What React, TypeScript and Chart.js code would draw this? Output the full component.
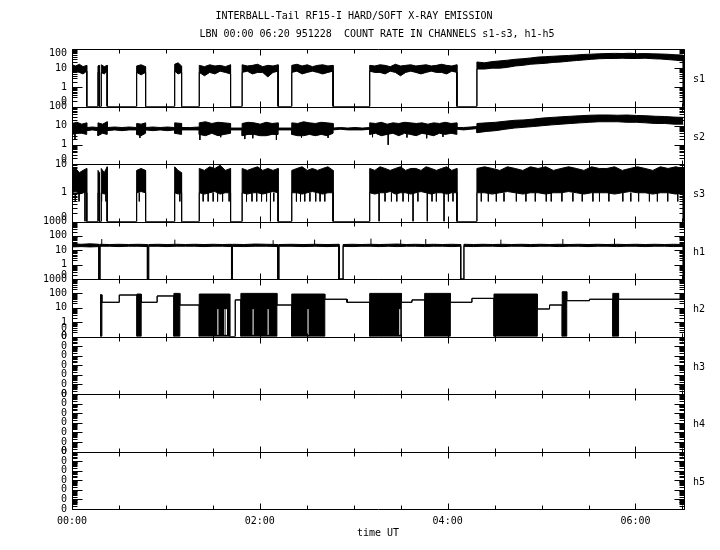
import React, { useEffect, useRef } from 'react';
import { Chart, registerables } from 'chart.js';

Chart.register(...registerables);

const FONT = '"DejaVu Sans Mono", "Liberation Mono", monospace';

// ---------------- text ----------------
const titleText = 'INTERBALL-Tail RF15-I HARD/SOFT X-RAY EMISSION';
const subtitleText = 'LBN 00:00 06:20 951228  COUNT RATE IN CHANNELS s1-s3, h1-h5';
const xAxisTitle = 'time UT';

// ---------------- time axis (minutes after 00:00 UT) ----------------
const timeMax = 391;
const timeTickValues = [0, 120, 240, 360];
const timeTickLabels = ['00:00', '02:00', '04:00', '06:00'];
const timeMinorTicks = [0, 30, 60, 90, 120, 150, 180, 210, 240, 270, 300, 330, 360, 390];

// ---------------- panels ----------------
const panelNames = ['s1', 's2', 's3', 'h1', 'h2', 'h3', 'h4', 'h5'];
const panelMin = [0.1, 0.1, 0.1, 0.1, 0.1, 1e-7, 1e-7, 1e-7];
const panelMax = [100, 100, 10, 1000, 1000, 0.1, 0.1, 0.1];
const emptyTicks = [1e-7, 1e-6, 1e-5, 1e-4, 1e-3, 1e-2, 1e-1];
const emptyLabels = ['0', '0', '0', '0', '0', '0', '0'];
const panelTickValues = [
  [0.1, 1, 10, 100],
  [0.1, 1, 10, 100],
  [0.1, 1, 10],
  [0.1, 1, 10, 100, 1000],
  [0.1, 0.35, 1, 10, 100, 1000],
  emptyTicks,
  emptyTicks,
  emptyTicks,
];
const panelTickLabels = [
  ['0', '1', '10', '100'],
  ['0', '1', '10', '100'],
  ['0', '1', '10'],
  ['0', '1', '10', '100', '1000'],
  ['0', '0', '1', '10', '100', '1000'],
  emptyLabels,
  emptyLabels,
  emptyLabels,
];

const FLOOR = 0.1;

// ---------------- s1 ----------------
const s1Spans = [[0, 9.4], [16.6, 17.4], [18.7, 22.5], [41.3, 47.0], [65.6, 70.0], [81.3, 101.3], [108.7, 131.7], [140.4, 166.8], [190.2, 245.9], [258.7, 390.6]];
const s1High = [
  [15, 13, 16, 12, 14],
  [13, 14],
  [15, 12, 14],
  [13, 15, 12],
  [16, 19, 13],
  [14, 12, 15, 13, 14, 12, 15],
  [15, 13, 14, 16, 12, 14, 13, 15],
  [14, 16, 13, 15, 12, 14, 15, 13, 14],
  [14, 13, 15, 14, 12, 16, 13, 14, 15, 13, 14, 15, 13, 14, 16, 14, 13, 15],
  [21, 19, 22, 24, 26, 29, 31, 34, 38, 40, 42, 44, 46, 49, 52, 54, 56, 58, 59, 58, 60, 57, 58, 56, 55, 53, 50, 48],
];
const s1Low = [
  [6, 7, 6, 5, 7],
  [6, 7],
  [6, 5, 7],
  [6, 4.5, 6],
  [7, 5, 6],
  [6, 4, 6, 5, 7, 6, 5],
  [6, 7, 5, 6, 6, 3.5, 6, 7],
  [6, 7, 5, 6, 7, 6, 5, 6, 7],
  [7, 6, 6, 5, 7, 6, 4, 6, 7, 6, 5, 6, 7, 6, 6, 5, 7, 6],
  [9, 9, 10, 10, 11, 13, 14, 16, 17, 18, 20, 21, 23, 25, 27, 29, 31, 32, 32, 33, 32, 32, 33, 31, 30, 28, 26, 24],
];

// ---------------- s2 ----------------
const s2Spans = [[0, 9.4], [9.4, 16.6], [16.6, 22.5], [22.5, 41.3], [41.3, 47.0], [47.0, 65.6], [65.6, 70.0], [70.0, 81.3], [81.3, 101.3], [101.3, 108.7], [108.7, 131.7], [131.7, 140.4], [140.4, 166.8], [166.8, 190.2], [190.2, 245.9], [245.9, 258.7], [258.7, 390.6]];
const s2High = [
  [13, 15, 12, 14],
  [8, 8.5, 8],
  [14, 12, 16],
  [8, 8.5, 8, 8.5, 8],
  [13, 12, 14],
  [8, 8.5, 8, 8.5, 8],
  [14, 13],
  [8, 8, 8.5],
  [14, 16, 13, 15, 14, 13],
  [7.5, 7.5],
  [13, 15, 14, 12, 15, 13, 14],
  [7.5, 7.5, 7.5],
  [14, 13, 16, 14, 13, 15, 14, 13],
  [7.5, 8, 7.5, 8, 7.5, 8],
  [14, 13, 15, 12, 14, 13, 15, 14, 13, 14, 12, 14, 13, 15, 13, 14],
  [8, 8, 8.5, 9],
  [13, 14, 15, 17, 19, 20, 22, 25, 27, 29, 31, 33, 35, 36, 36, 35, 36, 34, 33, 31, 30, 28, 27],
];
const s2Low = [
  [3.5, 4, 4, 3.5],
  [5.5, 6, 5.5],
  [3, 4, 3.5],
  [5.5, 6, 5.5, 6, 6],
  [3.5, 3, 4],
  [6, 5.5, 6, 5.5, 6],
  [4, 3.5],
  [6, 6, 6],
  [3.5, 3, 4, 3, 3.5, 4],
  [6, 6],
  [3, 3.5, 3.5, 3, 3, 3.5, 3.5],
  [6, 6, 6],
  [3.5, 3, 3, 3.5, 3, 3.5, 3, 4],
  [6, 6.5, 6, 6, 6, 6.5],
  [3.5, 4, 3, 3.5, 4, 3, 4, 3.5, 3, 4, 3.5, 3, 4, 3.5, 4, 3.5],
  [6.5, 6, 6.5, 7],
  [4.3, 5, 5.5, 6.5, 7.5, 8.2, 9, 10, 11, 12, 13, 14, 15, 16, 16, 16, 15, 15, 14, 13, 13, 12, 12],
];
const s2SpikeTimes = [1.9, 43.4, 81.7, 95, 110.4, 115.5, 130.6, 146.6, 163.6, 192, 202, 214, 226.6, 237];
const s2SpikeDepth = [2, 2.3, 1.8, 2.5, 2, 2.2, 1.8, 2.4, 2.3, 2.5, 1, 2.4, 2.2, 2.6];

// ---------------- s3 ----------------
const s3Spans = [[0, 9.4], [16.6, 17.4], [18.7, 22.5], [41.3, 47.0], [65.6, 70.0], [81.3, 101.3], [108.7, 131.7], [140.4, 166.8], [190.2, 245.9], [258.7, 390.6]];
const s3High = [
  [6, 7, 5, 6, 7],
  [6, 5],
  [7, 5, 8],
  [6, 7, 6],
  [8, 6, 5],
  [7, 6, 8, 7, 9, 6, 7],
  [7, 6, 7, 8, 6, 7, 6, 7],
  [6, 7, 8, 6, 7, 6, 7, 8, 6],
  [7, 6, 8, 7, 6, 7, 8, 6, 7, 7, 6, 8, 7, 6, 7, 8, 6, 7],
  [7, 8, 7, 6, 8, 7, 6, 8, 7, 8, 6, 7, 8, 7, 6, 8, 7, 7, 8, 6, 7, 8, 7, 6, 8, 7, 8, 7],
];
const s3Low = [
  [1, 1.1, 0.9, 1, 1],
  [1, 1],
  [1, 0.9, 1],
  [1, 1.1, 1],
  [1, 0.9, 1],
  [1, 0.9, 1, 1.1, 0.9, 1, 1],
  [1, 0.9, 1, 1, 0.9, 1, 1.1, 1],
  [1, 1, 0.9, 1, 1.1, 1, 0.9, 1, 1],
  [1, 0.9, 1, 1, 1.1, 0.9, 1, 1, 0.9, 1, 1.1, 1, 0.9, 1, 1, 0.9, 1, 1],
  [1, 1, 0.9, 1, 1.1, 1, 0.9, 1, 1, 0.9, 1, 1, 1.1, 1, 0.9, 1, 1, 1, 0.9, 1, 1.1, 1, 1, 0.9, 1, 1, 0.9, 1],
];
const s3DipTimes = [2.1, 4.5, 8.3, 18.9, 21.7, 43.0, 68.9, 83.8, 87, 90.2, 93, 96.2, 100.4, 111.5, 115, 118, 121.1, 124.3, 126.8, 128.9, 143.4, 146, 148.7, 152, 155.7, 158.5, 161.5, 196.2, 200, 204.1, 207.5, 211.5, 215, 217.9, 221, 227.0, 230, 232.8, 237.7, 240.5, 243.4, 261.5, 266, 271.1, 276, 283.9, 290, 296, 303.0, 306.2, 313, 320.0, 326, 332.8, 337.0, 343, 351.9, 357, 362, 368.9, 374, 380.6, 387.0];
const s3DipDepth = [0.5, 0.5, 0.1, 0.5, 0.5, 0.5, 0.5, 0.5, 0.5, 0.5, 0.5, 0.5, 0.5, 0.5, 0.5, 0.5, 0.5, 0.5, 0.1, 0.5, 0.5, 0.5, 0.5, 0.5, 0.5, 0.5, 0.5, 0.1, 0.5, 0.5, 0.5, 0.5, 0.5, 0.1, 0.5, 0.1, 0.5, 0.5, 0.1, 0.5, 0.5, 0.5, 0.5, 0.5, 0.5, 0.5, 0.5, 0.5, 0.5, 0.5, 0.5, 0.5, 0.5, 0.5, 0.5, 0.5, 0.5, 0.5, 0.5, 0.5, 0.5, 0.5, 0.5];

// ---------------- h1 ----------------
const h1Spans = [[0, 17.3], [17.9, 48.2], [49.0, 101.9], [102.5, 131.6], [132.2, 170.6], [173.2, 248.3], [250.4, 390.6]];
const h1High = [
  [28, 26, 28, 26],
  [26, 25, 26, 25, 26, 25],
  [25, 26, 25, 26, 25, 26, 25, 26, 25, 26],
  [26, 25, 27, 26, 25],
  [25, 26, 25, 26, 25, 26],
  [25, 26, 25, 26, 25, 26, 27, 25, 26, 25, 26, 25, 26, 25],
  [26, 25, 26, 25, 26, 25, 26, 25, 26, 25, 26, 25, 26, 25, 26, 25, 26, 25, 26, 25, 26, 25, 26, 25],
];
const h1Low = [
  [17, 18, 17, 18],
  [19, 19, 18, 19, 19, 18],
  [19, 19, 18, 19, 19, 19, 18, 19, 19, 18],
  [19, 18, 19, 19, 18],
  [19, 19, 18, 19, 18, 19],
  [19, 18, 19, 19, 18, 19, 18, 19, 19, 18, 19, 19, 18, 19],
  [19, 18, 19, 19, 18, 19, 19, 18, 19, 19, 18, 19, 19, 18, 19, 19, 18, 19, 19, 18, 19, 19, 18, 19],
];
const h1SpikeTimes = [19, 65.7, 128.5, 155, 191, 210, 226, 274, 313.6, 346.6];
const h1SpikeTop = [60, 55, 50, 55, 65, 55, 60, 55, 60, 65];

// ---------------- h2 ----------------
const h2Spans = [[17.9, 19.1], [19.1, 30.2], [30.2, 41.5], [41.5, 44.2], [44.2, 54.4], [54.4, 65.1], [65.1, 68.9], [68.9, 81.3], [81.3, 100.8], [100.8, 104.3], [104.3, 107.9], [107.9, 130.9], [130.9, 140.4], [140.4, 161.5], [161.5, 175.7], [175.7, 190.2], [190.2, 210.4], [210.4, 217.2], [217.2, 225.3], [225.3, 241.7], [241.7, 255.5], [255.5, 269.6], [269.6, 297.3], [297.3, 305.1], [305.1, 313.2], [313.2, 316.1], [316.1, 330.6], [330.6, 345.5], [345.5, 349.2], [349.2, 390.6]];
const h2Top = [80, 24, 77, 90, 24, 66, 100, 15.5, 90, 0.1, 35, 100, 15.5, 90, 39, 24, 100, 24, 35, 100, 24, 45, 90, 8.2, 15.5, 130, 31, 39, 100, 39];
const h2Bottom = [0.1, 24, 77, 0.1, 24, 66, 0.1, 15.5, 0.1, 0.1, 35, 0.1, 15.5, 0.1, 39, 24, 0.1, 24, 35, 0.1, 24, 45, 0.1, 8.2, 15.5, 0.1, 31, 39, 0.1, 39];
const h2GapTimes = [93.2, 97.7, 98.7, 115.7, 125.3, 150.8, 209.4];
const h2GapTop = [8, 8, 8, 8, 8, 8, 8];

// ---------------- builders ----------------
type P = { x: number; y: number | null };

function spread(t0: number, t1: number, r: number[]): P[] {
  return r.map((v, k) => ({ x: t0 + ((t1 - t0) * k) / (r.length - 1), y: v }));
}
function gated(spans: number[][], readings: number[][]): P[] {
  const out: P[] = [];
  spans.forEach(([t0, t1], i) => {
    out.push({ x: t0, y: FLOOR });
    out.push(...spread(t0, t1, readings[i]));
    out.push({ x: t1, y: FLOOR });
  });
  return out;
}
function joined(spans: number[][], readings: number[][]): P[] {
  const out: P[] = [];
  spans.forEach(([t0, t1], i) => out.push(...spread(t0, t1, readings[i])));
  return out;
}
function flat(spans: number[][], values: number[]): P[] {
  const out: P[] = [];
  spans.forEach(([t0, t1], i) => {
    out.push({ x: t0, y: values[i] });
    out.push({ x: t1, y: values[i] });
  });
  return out;
}
function sticks(times: number[], from: number[] | number, to: number[]): P[] {
  const out: P[] = [];
  times.forEach((t, i) => {
    out.push({ x: t, y: Array.isArray(from) ? from[i] : from });
    out.push({ x: t, y: to[i] });
    out.push({ x: t, y: null });
  });
  return out;
}

const lineBase = { borderColor: '#000', borderWidth: 1, pointRadius: 0, tension: 0, spanGaps: false };
function band(id: string, upper: P[], lower: P[]) {
  return [
    { ...lineBase, data: upper, yAxisID: id, fill: '+1', backgroundColor: '#000' },
    { ...lineBase, data: lower, yAxisID: id, fill: false },
  ];
}
function stickSet(id: string, data: P[], color = '#000', order = 0) {
  return { ...lineBase, borderColor: color, data, yAxisID: id, fill: false, order };
}

function buildDatasets() {
  return [
    ...band('s1', gated(s1Spans, s1High), gated(s1Spans, s1Low)),
    ...band('s2', joined(s2Spans, s2High), joined(s2Spans, s2Low)),
    stickSet('s2', sticks(s2SpikeTimes, 4, s2SpikeDepth)),
    ...band('s3', gated(s3Spans, s3High), gated(s3Spans, s3Low)),
    stickSet('s3', sticks(s3DipTimes, 1, s3DipDepth)),
    ...band('h1', gated(h1Spans, h1High), gated(h1Spans, h1Low)),
    stickSet('h1', sticks(h1SpikeTimes, 24, h1SpikeTop)),
    ...band('h2', flat(h2Spans, h2Top), flat(h2Spans, h2Bottom)),
    stickSet('h2', sticks(h2GapTimes, 0.13, h2GapTop), '#fff', -1),
  ];
}

function buildScales() {
  const scales: any = {
    x: {
      type: 'linear',
      position: 'bottom',
      min: 0,
      max: timeMax,
      grid: { display: false, drawTicks: false },
      border: { display: false },
      afterBuildTicks: (s: any) => {
        s.ticks = timeTickValues.map((v) => ({ value: v }));
      },
      afterFit: (s: any) => {
        s.height = 41;
      },
      ticks: {
        autoSkip: false,
        maxRotation: 0,
        padding: 6,
        color: '#000',
        font: { family: FONT, size: 10 },
        callback: (_v: any, i: number) => timeTickLabels[i],
      },
    },
  };
  panelNames.forEach((name, i) => {
    scales[name] = {
      type: 'logarithmic',
      position: 'left',
      stack: 'panels',
      stackWeight: 1,
      weight: panelNames.length - i,
      min: panelMin[i],
      max: panelMax[i],
      grid: { display: false, drawTicks: false },
      border: { display: false },
      afterBuildTicks: (s: any) => {
        s.ticks = panelTickValues[i].map((v) => ({ value: v }));
      },
      afterFit: (s: any) => {
        s.width = 64;
      },
      ticks: { display: false, autoSkip: false },
    };
  });
  return scales;
}

// label nudges (px) for the lowest / highest tick label of each panel
const bottomLabelLift = [5, 5, 4, 4, 0, 0, 0, 0];
const topLabelDrop = [4, 0, 0, 0, 0, 0, 0, 0];

const framePlugin = {
  id: 'frames',
  afterDraw(chart: any) {
    const ctx = chart.ctx;
    const xs = chart.scales.x;
    const L = Math.round(chart.chartArea.left) + 0.5;
    const R = Math.round(chart.chartArea.right) + 0.5;
    const seg = (x1: number, y1: number, x2: number, y2: number) => {
      ctx.beginPath();
      ctx.moveTo(x1, y1);
      ctx.lineTo(x2, y2);
      ctx.stroke();
    };
    ctx.save();
    ctx.strokeStyle = '#000';
    ctx.fillStyle = '#000';
    ctx.lineWidth = 1;
    ctx.font = `10px ${FONT}`;
    panelNames.forEach((name, i) => {
      const ys = chart.scales[name];
      const top = Math.round(ys.top) + 0.5;
      const bot = Math.round(ys.bottom) + 0.5;
      seg(L, top, R, top);
      seg(L, bot, R, bot);
      seg(L, top, L, bot);
      seg(R, top, R, bot);
      timeMinorTicks.forEach((t) => {
        const px = Math.round(xs.getPixelForValue(t)) + 0.5;
        const len = t % 120 === 0 ? 6 : 4;
        seg(px, top, px, top + len);
        seg(px, bot, px, bot - len);
      });
      const e0 = Math.round(Math.log10(panelMin[i]));
      const e1 = Math.round(Math.log10(panelMax[i]));
      for (let e = e0; e <= e1; e++) {
        const d = Math.pow(10, e);
        const py = Math.round(ys.getPixelForValue(d)) + 0.5;
        seg(L, py, L + 10, py);
        seg(R, py, R - 10, py);
        if (e === e1) break;
        for (let k = 2; k <= 9; k++) {
          const qy = Math.round(ys.getPixelForValue(k * d)) + 0.5;
          seg(L, qy, L + 5, qy);
          seg(R, qy, R - 5, qy);
        }
      }
      // tick labels
      ctx.textAlign = 'right';
      ctx.textBaseline = 'middle';
      const vals = panelTickValues[i];
      vals.forEach((v, k) => {
        let y = ys.getPixelForValue(v);
        if (k === 0) y -= bottomLabelLift[i];
        if (k === vals.length - 1) y += topLabelDrop[i];
        ctx.fillText(panelTickLabels[i][k], L - 5.5, y);
      });
      ctx.textAlign = 'left';
      ctx.fillText(name, 693, (ys.top + ys.bottom) / 2 + 2);
    });
    ctx.textAlign = 'center';
    ctx.textBaseline = 'middle';
    ctx.fillText(titleText, 354, 16);
    ctx.fillText(subtitleText, 377, 34);
    ctx.fillText(xAxisTitle, 378, 533);
    ctx.restore();
  },
};

export default function App() {
  const ref = useRef<HTMLCanvasElement>(null);
  useEffect(() => {
    document.body.style.margin = '0';
    const chart = new Chart(ref.current as HTMLCanvasElement, {
      type: 'line',
      data: { datasets: buildDatasets() as any },
      options: {
        responsive: false,
        maintainAspectRatio: false,
        animation: false,
        events: [],
        layout: { padding: { left: 8, right: 36, top: 49, bottom: 0 } },
        plugins: { legend: { display: false }, tooltip: { enabled: false }, title: { display: false } },
        scales: buildScales(),
      } as any,
      plugins: [framePlugin],
    });
    return () => chart.destroy();
  }, []);
  return (
    <div style={{ position: 'absolute', left: 0, top: 0, width: 720, height: 550, background: '#fff' }}>
      <canvas ref={ref} width={720} height={550} style={{ display: 'block' }} />
    </div>
  );
}
